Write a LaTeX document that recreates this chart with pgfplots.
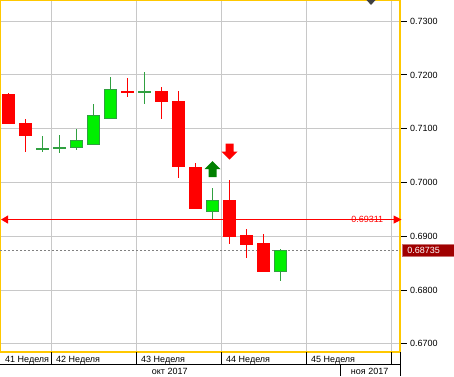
\documentclass[border=0pt]{standalone}
\usepackage{fontspec}
\setmainfont{Liberation Sans}
\usepackage{pgfplots}
\pgfplotsset{compat=1.18}
\usepackage{pgfplotstable}
\usetikzlibrary{arrows.meta}

\definecolor{yellowC}{HTML}{FFC800}
\definecolor{gridC}{HTML}{C8C8C8}
\definecolor{candleRed}{HTML}{FF0000}
\definecolor{greenFill}{HTML}{00F000}
\definecolor{greenLine}{HTML}{30A040}
\definecolor{arrowGreen}{HTML}{008000}
\definecolor{priceRed}{HTML}{A00000}
\definecolor{priceBorder}{HTML}{C87070}
\definecolor{darkC}{HTML}{404040}

\pgfdeclareplotmark{uparr}{%
  \pgfpathmoveto{\pgfpoint{0pt}{8pt}}%
  \pgfpathlineto{\pgfpoint{8pt}{0pt}}%
  \pgfpathlineto{\pgfpoint{4pt}{0pt}}%
  \pgfpathlineto{\pgfpoint{4pt}{-8pt}}%
  \pgfpathlineto{\pgfpoint{-4pt}{-8pt}}%
  \pgfpathlineto{\pgfpoint{-4pt}{0pt}}%
  \pgfpathlineto{\pgfpoint{-8pt}{0pt}}%
  \pgfpathclose\pgfusepathqfill}
\pgfdeclareplotmark{downarr}{%
  \pgfpathmoveto{\pgfpoint{0pt}{-8pt}}%
  \pgfpathlineto{\pgfpoint{8pt}{0pt}}%
  \pgfpathlineto{\pgfpoint{4pt}{0pt}}%
  \pgfpathlineto{\pgfpoint{4pt}{8pt}}%
  \pgfpathlineto{\pgfpoint{-4pt}{8pt}}%
  \pgfpathlineto{\pgfpoint{-4pt}{0pt}}%
  \pgfpathlineto{\pgfpoint{-8pt}{0pt}}%
  \pgfpathclose\pgfusepathqfill}

% bearish candles
\pgfplotstableread{
x o h l c
0 0.71646 0.71664 0.71093 0.71093
1 0.71106 0.71181 0.70573 0.70870
7 0.71706 0.71938 0.71595 0.71670
9 0.71701 0.71776 0.71186 0.71502
10 0.71515 0.71701 0.70089 0.70294
11 0.70288 0.70363 0.69513 0.69513
13 0.69669 0.70046 0.68862 0.68992
14 0.69018 0.69135 0.68602 0.68843
15 0.68875 0.69042 0.68341 0.68341
}\redtab

% bullish candles
\pgfplotstableread{
x o h l c
2 0.70619 0.70865 0.70573 0.70637
3 0.70638 0.70883 0.70554 0.70656
4 0.70655 0.70989 0.70610 0.70785
5 0.70710 0.71460 0.70710 0.71255
6 0.71194 0.71967 0.71194 0.71733
8 0.71679 0.72055 0.71469 0.71697
12 0.69464 0.69892 0.69321 0.69669
16 0.68341 0.68763 0.68174 0.68735
}\greentab

\begin{document}
\begin{tikzpicture}
\useasboundingbox (0,0) rectangle (454pt,376pt);
\begin{axis}[
  at={(0pt,24pt)}, anchor=south west,
  scale only axis, width=400pt, height=352pt,
  xmin=-0.5, xmax=23.029, ymin=0.668483, ymax=0.733935,
  clip=false,
  axis line style={draw=yellowC, line width=1.3pt},
  xtick={2.5,7.5,12.5,17.5,22.5}, xticklabels={}, xtick style={draw=none},
  ytick={0.67,0.68,0.69,0.70,0.71,0.72,0.73},
  ytick pos=right, yticklabel pos=right,
  tick align=outside, major tick length=6.5pt,
  ytick style={draw=black, line width=1pt},
  grid=major, grid style={draw=gridC, line width=1pt},
  yticklabel style={font=\fontsize{9}{10}\selectfont, anchor=west,
    /pgf/number format/.cd, fixed, fixed zerofill, precision=4, assume math mode=true},
]
% reference lines
\addplot[gray, dash pattern=on 2pt off 2pt, line width=1pt, forget plot]
  coordinates {(-0.5,0.68735) (23.029,0.68735)};
\addplot[candleRed, line width=1pt, forget plot,
  {Triangle[width=8pt,length=7pt]}-{Triangle[width=8pt,length=8pt]}]
  coordinates {(-0.44,0.69311) (23.12,0.69311)};
% red candles
\addplot[draw=none, mark=none, forget plot,
  error bars/.cd, y dir=plus, y explicit, error mark=none,
  error bar style={draw=candleRed, line width=1.3pt}]
  table[x=x, y=l, y error plus expr=\thisrow{h}-\thisrow{l}] {\redtab};
\addplot[draw=none, mark=none, forget plot,
  error bars/.cd, y dir=plus, y explicit, error mark=none,
  error bar style={draw=candleRed, line width=13pt}]
  table[x=x, y=c, y error plus expr=\thisrow{o}-\thisrow{c}] {\redtab};
% green candles
\addplot[draw=none, mark=none, forget plot,
  error bars/.cd, y dir=plus, y explicit, error mark=none,
  error bar style={draw=greenLine, line width=1.3pt}]
  table[x=x, y=l, y error plus expr=\thisrow{h}-\thisrow{l}] {\greentab};
\addplot[draw=none, mark=none, forget plot,
  error bars/.cd, y dir=plus, y explicit, error mark=none,
  error bar style={draw=greenLine, line width=13pt}]
  table[x=x, y expr=\thisrow{o}-0.00009, y error plus expr=\thisrow{c}-\thisrow{o}+0.00018] {\greentab};
\addplot[draw=none, mark=none, forget plot,
  error bars/.cd, y dir=plus, y explicit, error mark=none,
  error bar style={draw=greenFill, line width=11pt}]
  table[x=x, y expr=\thisrow{o}+0.0001, y error plus expr={max(\thisrow{c}-\thisrow{o}-0.0002,0)}] {\greentab};
% signal arrows
\addplot[only marks, mark=uparr, color=arrowGreen, forget plot] coordinates {(12,0.70251)};
\addplot[only marks, mark=downarr, color=candleRed, forget plot] coordinates {(13,0.70573)};
% labels
\node[candleRed, anchor=base west, inner sep=0pt, font=\fontsize{9}{10}\selectfont, yshift=-2.7pt]
  at (axis cs:20.15,0.69311) {0.69311};
\node[fill=priceRed, draw=priceBorder, line width=0.8pt, text=white, anchor=west,
  font=\fontsize{9}{10}\selectfont, text width=42pt, align=left, inner xsep=5pt,
  minimum height=12.7pt, inner ysep=1pt]
  at (axis cs:23.14,0.68735) {0.68735};
\end{axis}
% bottom time scale
\draw[black, line width=1pt] (0pt,11.6pt) -- (400pt,11.6pt);
\foreach \xx in {51,136,221,306,391} \draw[black, line width=1pt] (\xx pt,11.6pt) -- (\xx pt,24pt);
\draw[black, line width=1pt] (400pt,0pt) -- (400pt,24pt);
\draw[black, line width=1pt] (340pt,0pt) -- (340pt,11.6pt);
\begin{scope}[every node/.style={anchor=base west, inner sep=0pt, font=\fontsize{9}{10}\selectfont}]
\node at (5pt,13.7pt) {41 Неделя};
\node at (56pt,13.7pt) {42 Неделя};
\node at (141pt,13.7pt) {43 Неделя};
\node at (226pt,13.7pt) {44 Неделя};
\node at (311pt,13.7pt) {45 Неделя};
\node at (151.7pt,1.7pt) {окт 2017};
\node at (350.7pt,1.7pt) {ноя 2017};
\end{scope}
\fill[darkC] (366.5pt,376pt) -- (375.5pt,376pt) -- (371pt,371pt) -- cycle;
\end{tikzpicture}
\end{document}
